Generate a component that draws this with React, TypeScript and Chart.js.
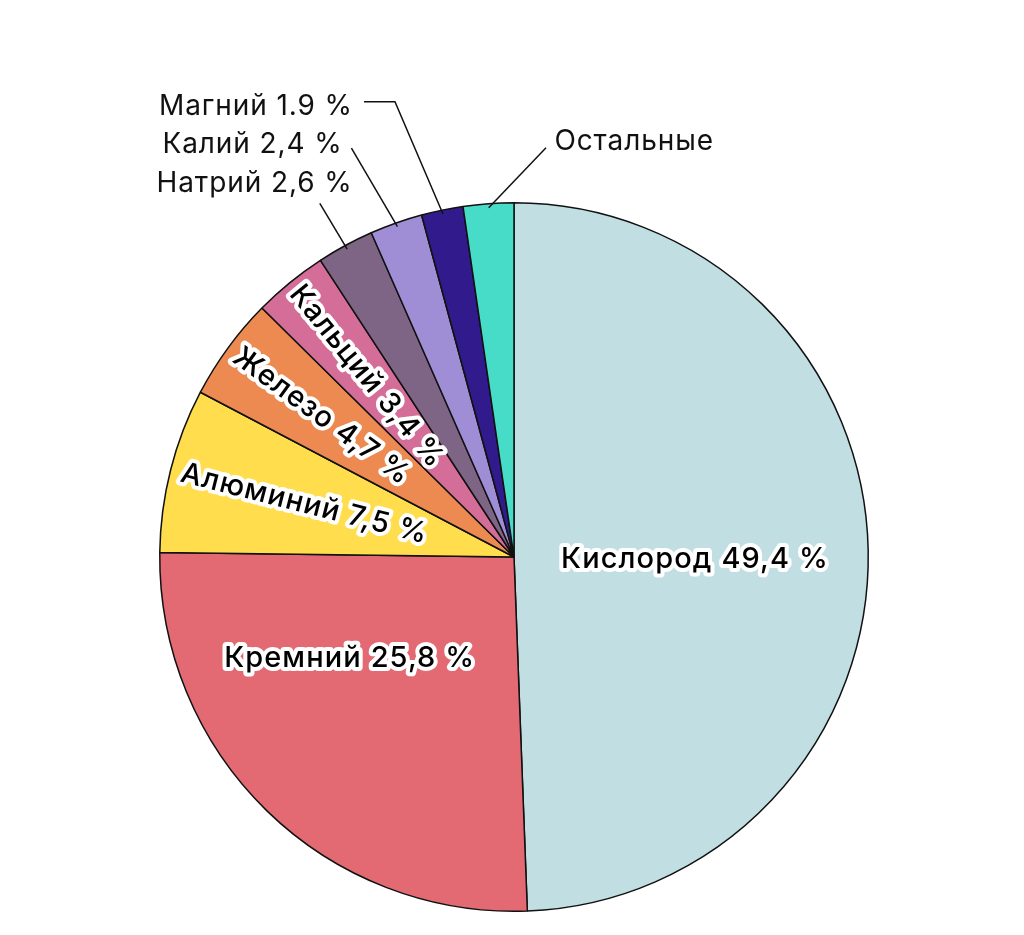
import React, { useEffect, useRef } from "react";
import { Chart, registerables } from "chart.js";

Chart.register(...registerables);

// ---- data ----
const categories = ["Кислород", "Кремний", "Алюминий", "Железо", "Кальций", "Натрий", "Калий", "Магний", "Остальные"];
const values = [49.4, 25.8, 7.5, 4.7, 3.4, 2.6, 2.4, 1.9, 2.3];
const valueLabels = ["49,4 %", "25,8 %", "7,5 %", "4,7 %", "3,4 %", "2,6 %", "2,4 %", "1.9 %", ""];
const colors = ["#c1dfe3", "#e36a73", "#ffdd4c", "#ec8a52", "#d46d98", "#7f6585", "#9f8ed6", "#311a8b", "#47dcc8"];

// ---- label styles (placement relative to each slice) ----
type LabelCfg =
  | { mode: "h"; r: number; angleOffset: number }
  | { mode: "r"; r: number }
  | { mode: "o"; line: number[][]; text: number[] };

const labelCfg: LabelCfg[] = [
  { mode: "h", r: 181, angleOffset: 1.65 },
  { mode: "h", r: 193, angleOffset: 14.1 },
  { mode: "r", r: 343 },
  { mode: "r", r: 344 },
  { mode: "r", r: 346 },
  { mode: "o", line: [[-27.4, -45.7]], text: [-190.7, -56.7] },
  { mode: "o", line: [[-46, -78.7]], text: [-235, -73.7] },
  { mode: "o", line: [[-48, -112.4], [-79, -112.4]], text: [-284, -99] },
  { mode: "o", line: [[57.3, -60]], text: [65.7, -57.3] },
];

const FONT_FAMILY = "Inter, 'Noto Sans', sans-serif";
const insideFont = `500 29px ${FONT_FAMILY}`;
const outsideFont = `400 28px ${FONT_FAMILY}`;

const labelPlugin = {
  id: "pieLabels",
  afterDatasetsDraw(chart: any) {
    const ctx: any = chart.ctx;
    const meta = chart.getDatasetMeta(0);
    meta.data.forEach((arc: any, i: number) => {
      const { x, y, startAngle, endAngle, outerRadius } = arc.getProps(
        ["x", "y", "startAngle", "endAngle", "outerRadius"],
        true
      );
      const mid = (startAngle + endAngle) / 2;
      const cfg = labelCfg[i];
      const text = valueLabels[i] ? `${categories[i]} ${valueLabels[i]}` : categories[i];
      ctx.save();
      if (cfg.mode === "h" || cfg.mode === "r") {
        ctx.font = insideFont;
        ctx.letterSpacing = "1.1px";
        ctx.lineJoin = "round";
        ctx.lineWidth = 8;
        ctx.strokeStyle = "#ffffff";
        ctx.fillStyle = "#000000";
        if (cfg.mode === "h") {
          const a = mid + (cfg.angleOffset * Math.PI) / 180;
          const tx = x + cfg.r * Math.cos(a);
          const ty = y + cfg.r * Math.sin(a);
          ctx.textAlign = "center";
          ctx.textBaseline = "middle";
          ctx.strokeText(text, tx, ty);
          ctx.fillText(text, tx, ty);
        } else {
          ctx.translate(x, y);
          ctx.rotate(mid + Math.PI);
          ctx.textAlign = "left";
          ctx.textBaseline = "middle";
          ctx.strokeText(text, -cfg.r, 0);
          ctx.fillText(text, -cfg.r, 0);
        }
      } else {
        const pr = outerRadius - 4;
        const px = x + pr * Math.cos(mid);
        const py = y + pr * Math.sin(mid);
        ctx.strokeStyle = "#111111";
        ctx.lineWidth = 1.5;
        ctx.beginPath();
        ctx.moveTo(px, py);
        cfg.line.forEach(([dx, dy]) => ctx.lineTo(px + dx, py + dy));
        ctx.stroke();
        ctx.font = outsideFont;
        ctx.letterSpacing = "0.9px";
        ctx.fillStyle = "#111111";
        ctx.textAlign = "left";
        ctx.textBaseline = "alphabetic";
        ctx.fillText(text, px + cfg.text[0], py + cfg.text[1]);
      }
      ctx.restore();
    });
  },
};

export default function App() {
  const canvasRef = useRef<HTMLCanvasElement | null>(null);

  useEffect(() => {
    if (!canvasRef.current) return;
    const chart = new Chart(canvasRef.current, {
      type: "pie",
      data: {
        labels: categories,
        datasets: [
          {
            data: values,
            backgroundColor: colors,
            borderColor: "#111111",
            borderWidth: 1.5,
          },
        ],
      },
      options: {
        responsive: false,
        animation: false,
        devicePixelRatio: 1,
        layout: { padding: { left: 159, right: 155, top: 202, bottom: 23 } },
        plugins: {
          legend: { display: false },
          tooltip: { enabled: false },
        },
      },
      plugins: [labelPlugin],
    });
    return () => chart.destroy();
  }, []);

  return (
    <div style={{ position: "absolute", left: 0, top: 0, width: 1024, height: 935, background: "#ffffff" }}>
      <canvas ref={canvasRef} width={1024} height={935} style={{ width: 1024, height: 935, display: "block" }} />
    </div>
  );
}
